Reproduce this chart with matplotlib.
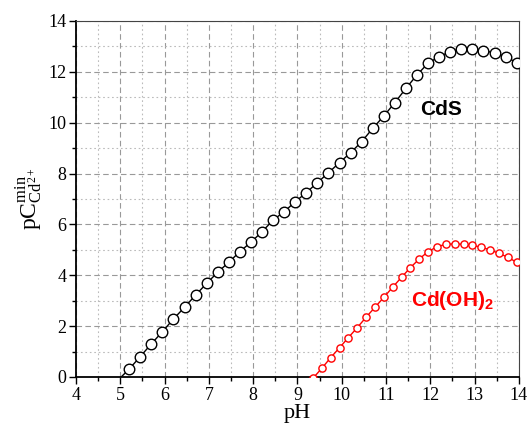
import matplotlib.pyplot as plt
from matplotlib.ticker import MultipleLocator

plt.rcParams['font.family'] = 'Liberation Serif'
plt.rcParams['mathtext.fontset'] = 'custom'
plt.rcParams['mathtext.rm'] = 'Liberation Serif'
plt.rcParams['mathtext.it'] = 'Liberation Serif:italic'
plt.rcParams['mathtext.bf'] = 'Liberation Sans:bold'

# CdS curve (pH, pC_min)
ph_cds = [5.02, 5.2, 5.45, 5.7, 5.95, 6.2, 6.45, 6.7, 6.95, 7.2, 7.45, 7.7, 7.95,
          8.2, 8.45, 8.7, 8.95, 9.2, 9.45, 9.7, 9.95, 10.2, 10.45, 10.7,
          10.95, 11.2, 11.45, 11.7, 11.95, 12.2, 12.45, 12.7, 12.95, 13.2,
          13.45, 13.7, 13.95]
pc_cds = [0.0, 0.31, 0.80, 1.30, 1.78, 2.28, 2.74, 3.22, 3.68, 4.12, 4.51, 4.93, 5.30,
          5.71, 6.17, 6.50, 6.89, 7.25, 7.64, 8.03, 8.43, 8.82, 9.25, 9.78,
          10.26, 10.79, 11.35, 11.88, 12.34, 12.60, 12.79, 12.90, 12.90, 12.83,
          12.75, 12.60, 12.36]

# Cd(OH)2 curve
ph_oh = [9.35, 9.55, 9.75, 9.95, 10.15, 10.35, 10.55, 10.75, 10.95, 11.15, 11.35,
         11.55, 11.75, 11.95, 12.15, 12.35, 12.55, 12.75, 12.95, 13.15, 13.35,
         13.55, 13.75, 13.95]
pc_oh = [-0.05, 0.34, 0.76, 1.15, 1.55, 1.94, 2.35, 2.74, 3.13, 3.53, 3.92,
         4.30, 4.64, 4.93, 5.12, 5.22, 5.23, 5.22, 5.18, 5.10, 5.00,
         4.86, 4.71, 4.51]

fig = plt.figure(figsize=(5.3, 4.28), dpi=100)
ax = fig.add_axes([0.1434, 0.1192, 0.8356, 0.8318])

ax.plot(ph_cds, pc_cds, color='black', lw=1, marker='o', ms=7.6, mfc='white',
        mec='black', mew=1, markevery=list(range(1, len(ph_cds))), zorder=3)
ax.plot(ph_oh, pc_oh, color='red', lw=1, marker='o', ms=5.2, mfc='white',
        mec='red', mew=1, zorder=3)

ax.text(12.24, 10.5, 'CdS', fontsize=15, fontweight='bold', family='Liberation Sans',
        ha='center', va='center', color='black')
ax.text(12.5, 3.0, r'Cd(OH)$_\mathbf{2}$', fontsize=15, fontweight='bold',
        family='Liberation Sans', ha='center', va='center', color='red')

ax.set_xlim(4, 14)
ax.set_ylim(0, 14)
ax.xaxis.set_major_locator(MultipleLocator(1))
ax.xaxis.set_minor_locator(MultipleLocator(0.5))
ax.yaxis.set_major_locator(MultipleLocator(2))
ax.yaxis.set_minor_locator(MultipleLocator(1))

ax.grid(which='major', color='#999999', ls=(0, (5, 3)), lw=0.8)
ax.grid(which='minor', color='#bbbbbb', ls=(0, (1.5, 2.5)), lw=0.8)
ax.set_axisbelow(True)

ax.tick_params(which='major', direction='out', length=5, width=1, labelsize=13, pad=2)
ax.tick_params(which='minor', direction='out', length=3, width=1)
for side in ['top', 'right']:
    ax.spines[side].set_color('#444444')
for side in ['left', 'bottom']:
    ax.spines[side].set_linewidth(1.3)

ax.set_xlabel('pH', fontsize=16, labelpad=0)
ax.set_ylabel(r'$\mathrm{pC}_{\mathrm{Cd}^{2+}}^{\mathrm{min}}$', fontsize=17, labelpad=2)

fig.savefig('out.png', dpi=100)
